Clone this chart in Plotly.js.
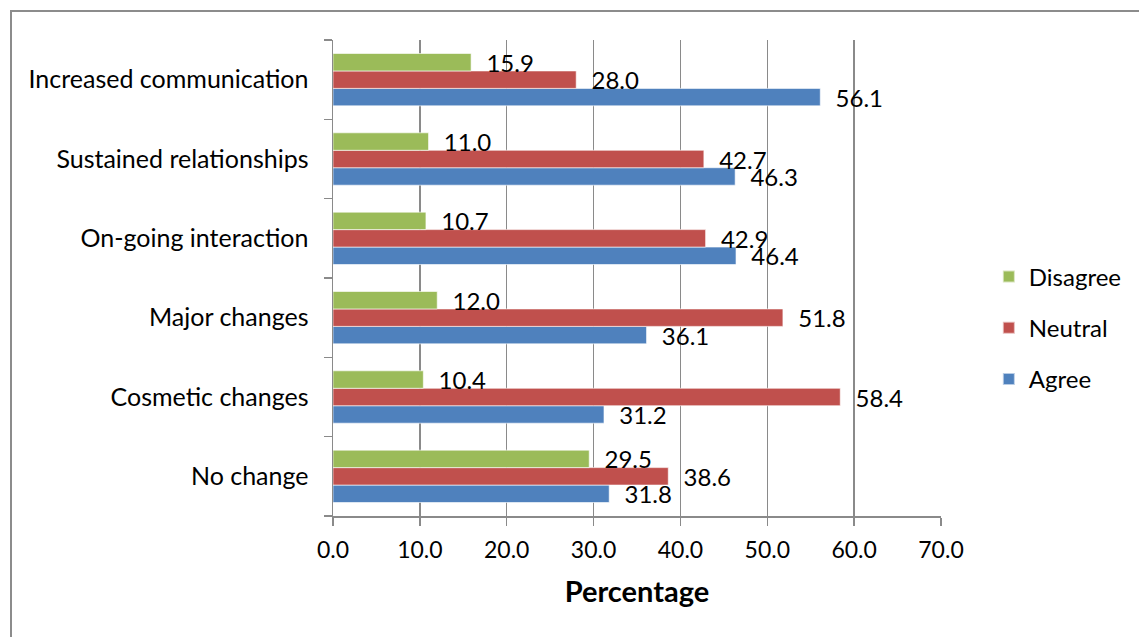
<!DOCTYPE html>
<html>
<head>
<meta charset="utf-8">
<script src="https://cdn.plot.ly/plotly-3.0.1.min.js"></script>
<style>
html,body{margin:0;padding:0;background:#fff;overflow:hidden;}
#frame{position:absolute;left:10px;top:10px;width:1200px;height:700px;border:2px solid #8c8c8c;box-sizing:border-box;pointer-events:none;z-index:5;}
#chart{position:absolute;left:0;top:0;width:1139px;height:637px;}
</style>
</head>
<body>
<div id="frame"></div>
<div id="chart"></div>
<script>
const categories = ["No change","Cosmetic changes","Major changes","On-going interaction","Sustained relationships","Increased communication"];
const agree = [31.8, 31.2, 36.1, 46.4, 46.3, 56.1];
const neutral = [38.6, 58.4, 51.8, 42.9, 42.7, 28.0];
const disagree = [29.5, 10.4, 12.0, 10.7, 11.0, 15.9];
const xTicks = [0,10,20,30,40,50,60,70];
const xTickText = ["0.0","10.0","20.0","30.0","40.0","50.0","60.0","70.0"];

const FONT = "Lato, 'Open Sans', sans-serif";
function mk(name, vals, color, rank){
  return {
    type:'bar', orientation:'h', name:name, legendgroup:name, legendrank:rank, y:categories, x:vals,
    marker:{color:color, line:{color:'rgba(255,255,255,0.6)', width:1}},
    text: vals.map(v=>v.toFixed(1)),
    texttemplate:'\u00a0\u00a0%{text}',
    textposition:'outside', cliponaxis:false, constraintext:'none',
    textfont:{family:FONT, size:24, color:'#000'},
    hoverinfo:'skip'
  };
}
const data = [
  mk('Agree', agree, '#4F81BD', 3),
  mk('Neutral', neutral, '#C0504D', 2),
  mk('Disagree', disagree, '#9BBB59', 1)
];
const layout = {
  width:1139, height:637,
  margin:{l:333, r:196, t:40, b:121, pad:0},
  paper_bgcolor:'#fff', plot_bgcolor:'#fff',
  barmode:'group', bargap:0.34, bargroupgap:0,
  font:{family:FONT, size:24, color:'#000'},
  xaxis:{
    range:[0,70], tickvals:xTicks, ticktext:xTickText,
    showgrid:true, gridcolor:'#8a8a8a', gridwidth:1.5,
    showline:true, linecolor:'#8a8a8a', linewidth:1.5,
    ticks:'outside', ticklen:8, tickcolor:'#8a8a8a', tickwidth:1.5,
    ticklabelstandoff:5,
    zeroline:false, tickfont:{family:FONT, size:23, color:'#000'},
    title:{text:'<b>Percentage</b>', font:{family:FONT, size:29, color:'#000'}, standoff:19},
    fixedrange:true
  },
  yaxis:{
    type:'category', categoryorder:'array', categoryarray:categories,
    showline:true, linecolor:'#8a8a8a', linewidth:1.5,
    ticks:'outside', tickson:'boundaries', ticklen:8, tickcolor:'#8a8a8a', tickwidth:1.5,
    showgrid:false, zeroline:false, ticklabelstandoff:18,
    tickfont:{family:FONT, size:25, color:'#000'}, fixedrange:true
  },
  legend:{
    x:1.0787, xanchor:'left', y:0.395, yanchor:'middle',
    traceorder:'grouped', tracegroupgap:17, itemsizing:'constant',
    font:{family:FONT, size:24, color:'#000'}, bgcolor:'rgba(0,0,0,0)'
  },
  showlegend:true
};
Plotly.newPlot('chart', data, layout, {displayModeBar:false, staticPlot:true});
</script>
</body>
</html>
